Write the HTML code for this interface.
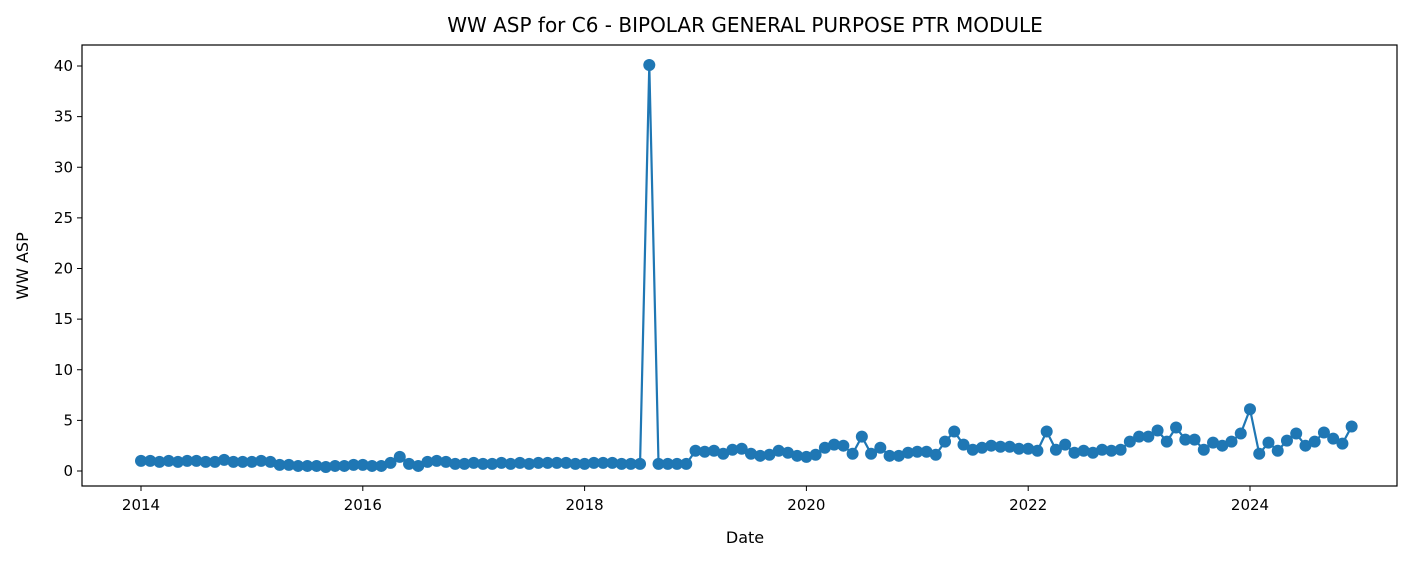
<!DOCTYPE html>
<html><head><meta charset="utf-8"><style>
body{margin:0;background:#fff;}
svg{display:block;font-family:"DejaVu Sans","Liberation Sans",sans-serif;}
</style></head><body>
<svg id="chart" width="1425" height="561">
<rect x="82" y="45" width="1315" height="441" fill="#fff" stroke="#000" stroke-width="1.2"/>
<text x="745" y="32" text-anchor="middle" font-size="20">WW ASP for C6 - BIPOLAR GENERAL PURPOSE PTR MODULE</text>
<text x="745" y="543" text-anchor="middle" font-size="16">Date</text>
<text x="28" y="266" text-anchor="middle" font-size="16" transform="rotate(-90 28 266)">WW ASP</text>
<g id="axes"></g>
<g id="series"></g>
</svg>
<script>
const startYear = 2014;
const yTicks = [0,5,10,15,20,25,30,35,40];
const xTicks = [2014,2016,2018,2020,2022,2024];
const values2014 = [1.0,1.0,0.9,1.0,0.9,1.0,1.0,0.9,0.9,1.1,0.9,0.9];
const values2015 = [0.9,1.0,0.9,0.6,0.6,0.5,0.5,0.5,0.4,0.5,0.5,0.6];
const values2016 = [0.6,0.5,0.5,0.8,1.4,0.7,0.5,0.9,1.0,0.9,0.7,0.7];
const values2017 = [0.8,0.7,0.7,0.8,0.7,0.8,0.7,0.8,0.8,0.8,0.8,0.7];
const values2018 = [0.7,0.8,0.8,0.8,0.7,0.7,0.7,40.1,0.7,0.7,0.7,0.7];
const values2019 = [2.0,1.9,2.0,1.7,2.1,2.2,1.7,1.5,1.6,2.0,1.8,1.5];
const values2020 = [1.4,1.6,2.3,2.6,2.5,1.7,3.4,1.7,2.3,1.5,1.5,1.8];
const values2021 = [1.9,1.9,1.6,2.9,3.9,2.6,2.1,2.3,2.5,2.4,2.4,2.2];
const values2022 = [2.2,2.0,3.9,2.1,2.6,1.8,2.0,1.8,2.1,2.0,2.1,2.9];
const values2023 = [3.4,3.4,4.0,2.9,4.3,3.1,3.1,2.1,2.8,2.5,2.9,3.7];
const values2024 = [6.1,1.7,2.8,2.0,3.0,3.7,2.5,2.9,3.8,3.2,2.7,4.4];
const values = [].concat(values2014,values2015,values2016,values2017,values2018,values2019,values2020,values2021,values2022,values2023,values2024);

const NS = "http://www.w3.org/2000/svg";
function xScale(t){ return 141 + (t - 2014) * 110.9; }
function yScale(v){ return 471 - v * 10.125; }
function mk(tag, attrs, parent){ const e=document.createElementNS(NS,tag); for(const k in attrs) e.setAttribute(k,attrs[k]); parent.appendChild(e); return e; }
const axes = document.getElementById('axes');
yTicks.forEach(v=>{
  const y=yScale(v);
  const l=mk('line',{x1:82,x2:77,y1:y,y2:y,stroke:'#000','stroke-width':1},axes);
  
  
  const t=mk('text',{x:73,y:y+5,'text-anchor':'end','font-size':15},axes);
  t.textContent=v;
  
  
});
xTicks.forEach(v=>{
  const x=xScale(v);
  const l=mk('line',{x1:x,x2:x,y1:486,y2:491,stroke:'#000','stroke-width':1},axes);
  
  
  const t=mk('text',{x:x,y:510,'text-anchor':'middle','font-size':15},axes);
  t.textContent=v;
  
  
});
const series=document.getElementById('series');
const pts=values.map((v,i)=>[xScale(startYear+i/12), yScale(v)]);
const path=mk('polyline',{points:pts.map(p=>p.join(',')).join(' '),fill:'none',stroke:'#1f77b4','stroke-width':2.2},series);


pts.forEach(p=>{
  const c=mk('circle',{cx:p[0],cy:p[1],r:6,fill:'#1f77b4'},series);
  
  
});
</script>
</body></html>
